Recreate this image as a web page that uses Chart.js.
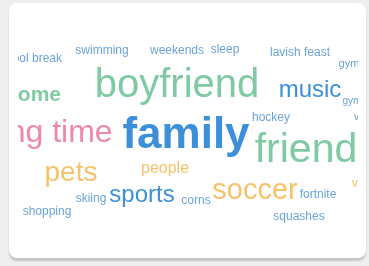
<!DOCTYPE html>
<html>
<head>
<meta charset="utf-8">
<script src="https://cdn.jsdelivr.net/npm/chart.js@4"></script>
<style>
  html, body { margin: 0; padding: 0; background: #efefef; }
  body { width: 369px; height: 266px; position: relative; overflow: hidden; }
  .card {
    position: absolute; left: 9px; top: 3px; width: 357px; height: 255px;
    background: #fff; border-radius: 8px;
    box-shadow: 0 3px 2px rgba(0,0,0,0.18);
  }
  #nuvem { position: absolute; left: 9px; top: 0; }
</style>
</head>
<body>
<div class="card"><canvas id="nuvem" width="340" height="255"></canvas></div>
<script>
// palavras da nuvem
const palavras = ['school break', 'swimming', 'weekends', 'sleep', 'lavish feast', 'gym',
  'boyfriend', 'home', 'music', 'gym', 'hockey', 'video games',
  'spending time', 'family', 'friend', 'pets', 'people', 'soccer', 'vacation',
  'sports', 'skiing', 'corns', 'fortnite', 'shopping', 'squashes', 'reading'];
// frequencia (vira tamanho da fonte)
const contagens = [12, 12, 12, 12, 12, 11,
  40, 21, 24, 10, 12, 11,
  32, 44, 41, 28, 16, 29, 12,
  24, 12, 12, 12, 12, 12, 11];
// grupo de cor de cada palavra
const grupos = [0, 0, 0, 0, 0, 0,
  1, 1, 2, 0, 0, 0,
  3, 2, 1, 4, 4, 4, 4,
  2, 0, 0, 0, 0, 0, 0];
// layout da nuvem (centro de cada palavra)
const posX = [28, 102, 177, 225, 300, 349,
  177, 33, 310, 352, 271, 385,
  13, 186, 306, 71, 165, 255, 374,
  142, 91, 196, 318, 47, 299, -4];
const posY = [59, 51, 51, 50, 53, 64,
  86, 95, 90, 101, 118, 117,
  133, 136, 151, 173, 169, 191, 184,
  195, 199, 201, 195, 212, 217, 192];

const cores = ['#6aa4d8', '#7fcaa3', '#3d8fd9', '#ee88aa', '#f6c26a'];
const negrito = ['family', 'home'];

const textoNuvem = {
  id: 'textoNuvem',
  afterDatasetsDraw(chart) {
    const ctx = chart.ctx;
    const area = chart.chartArea;
    const meta = chart.getDatasetMeta(0);
    ctx.save();
    ctx.beginPath();
    ctx.rect(area.left, area.top, area.right - area.left, area.bottom - area.top);
    ctx.clip();
    ctx.textAlign = 'center';
    ctx.textBaseline = 'middle';
    meta.data.forEach((pt, i) => {
      const peso = negrito.includes(palavras[i]) ? 'bold ' : '';
      ctx.font = peso + contagens[i] + 'px "Liberation Sans", Arial, sans-serif';
      ctx.fillStyle = cores[grupos[i]];
      ctx.fillText(palavras[i], pt.x, pt.y);
    });
    ctx.restore();
  }
};

new Chart(document.getElementById('nuvem').getContext('2d'), {
  type: 'scatter',
  data: {
    datasets: [{
      data: palavras.map((_, i) => ({ x: posX[i], y: posY[i] })),
      pointRadius: 0,
      pointHoverRadius: 0
    }]
  },
  options: {
    responsive: false,
    animation: false,
    layout: { padding: 0 },
    plugins: { legend: { display: false }, tooltip: { enabled: false } },
    events: [],
    scales: {
      x: { type: 'linear', min: 18, max: 358, display: false },
      y: { type: 'linear', min: 3, max: 258, reverse: true, display: false }
    }
  },
  plugins: [textoNuvem]
});
</script>
</body>
</html>
